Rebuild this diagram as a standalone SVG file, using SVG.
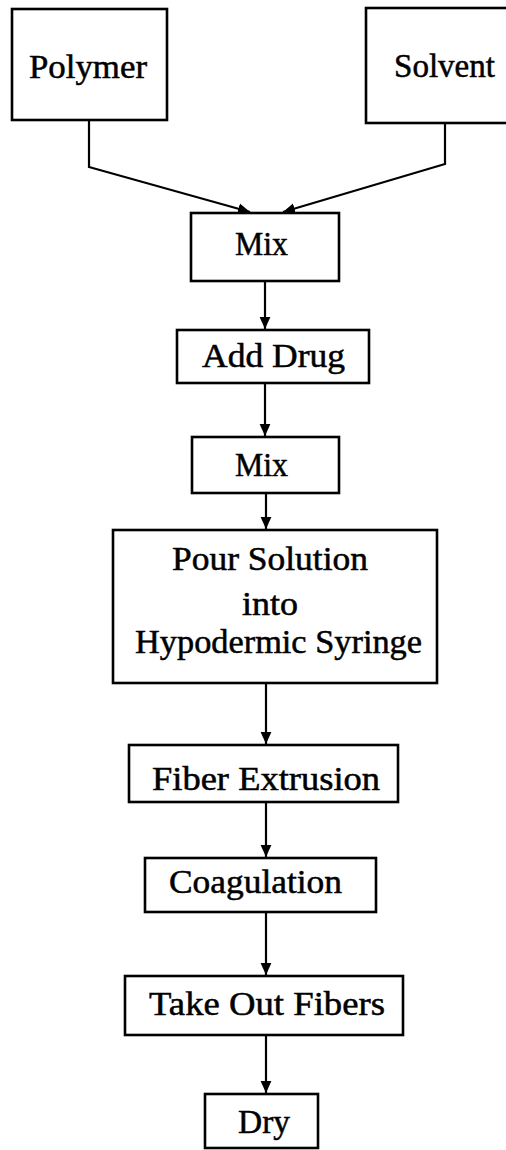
<svg xmlns="http://www.w3.org/2000/svg" width="506" height="1150" viewBox="0 0 506 1150">
<defs>
<style>
.box{fill:#fff;stroke:#000;stroke-width:2.6}
.lbl{font-family:"Liberation Serif","Times New Roman",serif;font-size:33px;fill:#000;stroke:#000;stroke-width:0.5}
.con{fill:none;stroke:#000;stroke-width:2.2}
</style>
<marker id="ah" markerUnits="userSpaceOnUse" markerWidth="12" markerHeight="12" viewBox="0 0 10 10" refX="10" refY="5" orient="auto">
<path d="M0,0.5 L10,5 L0,9.5 Z" fill="#000"/>
</marker>
</defs>
<rect width="506" height="1150" fill="#fff"/>
<g id="connectors">
<path class="con" d="M89 120 V167 L250 212" marker-end="url(#ah)"/>
<path class="con" d="M445 123 V164 L283 212" marker-end="url(#ah)"/>
<path class="con" d="M265 281 V329" marker-end="url(#ah)"/>
<path class="con" d="M265 383 V436" marker-end="url(#ah)"/>
<path class="con" d="M266 493 V529" marker-end="url(#ah)"/>
<path class="con" d="M266 683 V744" marker-end="url(#ah)"/>
<path class="con" d="M266 802 V857" marker-end="url(#ah)"/>
<path class="con" d="M266 912 V975" marker-end="url(#ah)"/>
<path class="con" d="M266 1035 V1093" marker-end="url(#ah)"/>
</g>
<g id="polymer"><rect class="box" x="12" y="9" width="155" height="111"/><text class="lbl" x="29" y="78" textLength="118" lengthAdjust="spacingAndGlyphs">Polymer</text></g>
<g id="solvent"><rect class="box" x="366" y="8" width="145" height="115"/><text class="lbl" x="394" y="77" textLength="101" lengthAdjust="spacingAndGlyphs">Solvent</text></g>
<g id="mix1"><rect class="box" x="191" y="213" width="148" height="68"/><text class="lbl" x="235" y="255" textLength="53" lengthAdjust="spacingAndGlyphs">Mix</text></g>
<g id="add-drug"><rect class="box" x="177" y="330" width="192" height="53"/><text class="lbl" x="202" y="367" textLength="143" lengthAdjust="spacingAndGlyphs">Add Drug</text></g>
<g id="mix2"><rect class="box" x="192" y="437" width="147" height="56"/><text class="lbl" x="235" y="476" textLength="53" lengthAdjust="spacingAndGlyphs">Mix</text></g>
<g id="pour"><rect class="box" x="113" y="530" width="324" height="153"/>
<text class="lbl" x="172" y="570" textLength="196" lengthAdjust="spacingAndGlyphs">Pour Solution</text>
<text class="lbl" x="242" y="615" textLength="56" lengthAdjust="spacingAndGlyphs">into</text>
<text class="lbl" x="135" y="653" textLength="287" lengthAdjust="spacingAndGlyphs">Hypodermic Syringe</text></g>
<g id="fiber-extrusion"><rect class="box" x="129" y="745" width="269" height="57"/><text class="lbl" x="152" y="790" textLength="228" lengthAdjust="spacingAndGlyphs">Fiber Extrusion</text></g>
<g id="coagulation"><rect class="box" x="145" y="858" width="231" height="54"/><text class="lbl" x="169" y="893" textLength="173" lengthAdjust="spacingAndGlyphs">Coagulation</text></g>
<g id="take-out"><rect class="box" x="125" y="976" width="278" height="59"/><text class="lbl" x="149" y="1015" textLength="236" lengthAdjust="spacingAndGlyphs">Take Out Fibers</text></g>
<g id="dry"><rect class="box" x="205" y="1094" width="113" height="54"/><text class="lbl" x="238" y="1133" textLength="52" lengthAdjust="spacingAndGlyphs">Dry</text></g>
</svg>
